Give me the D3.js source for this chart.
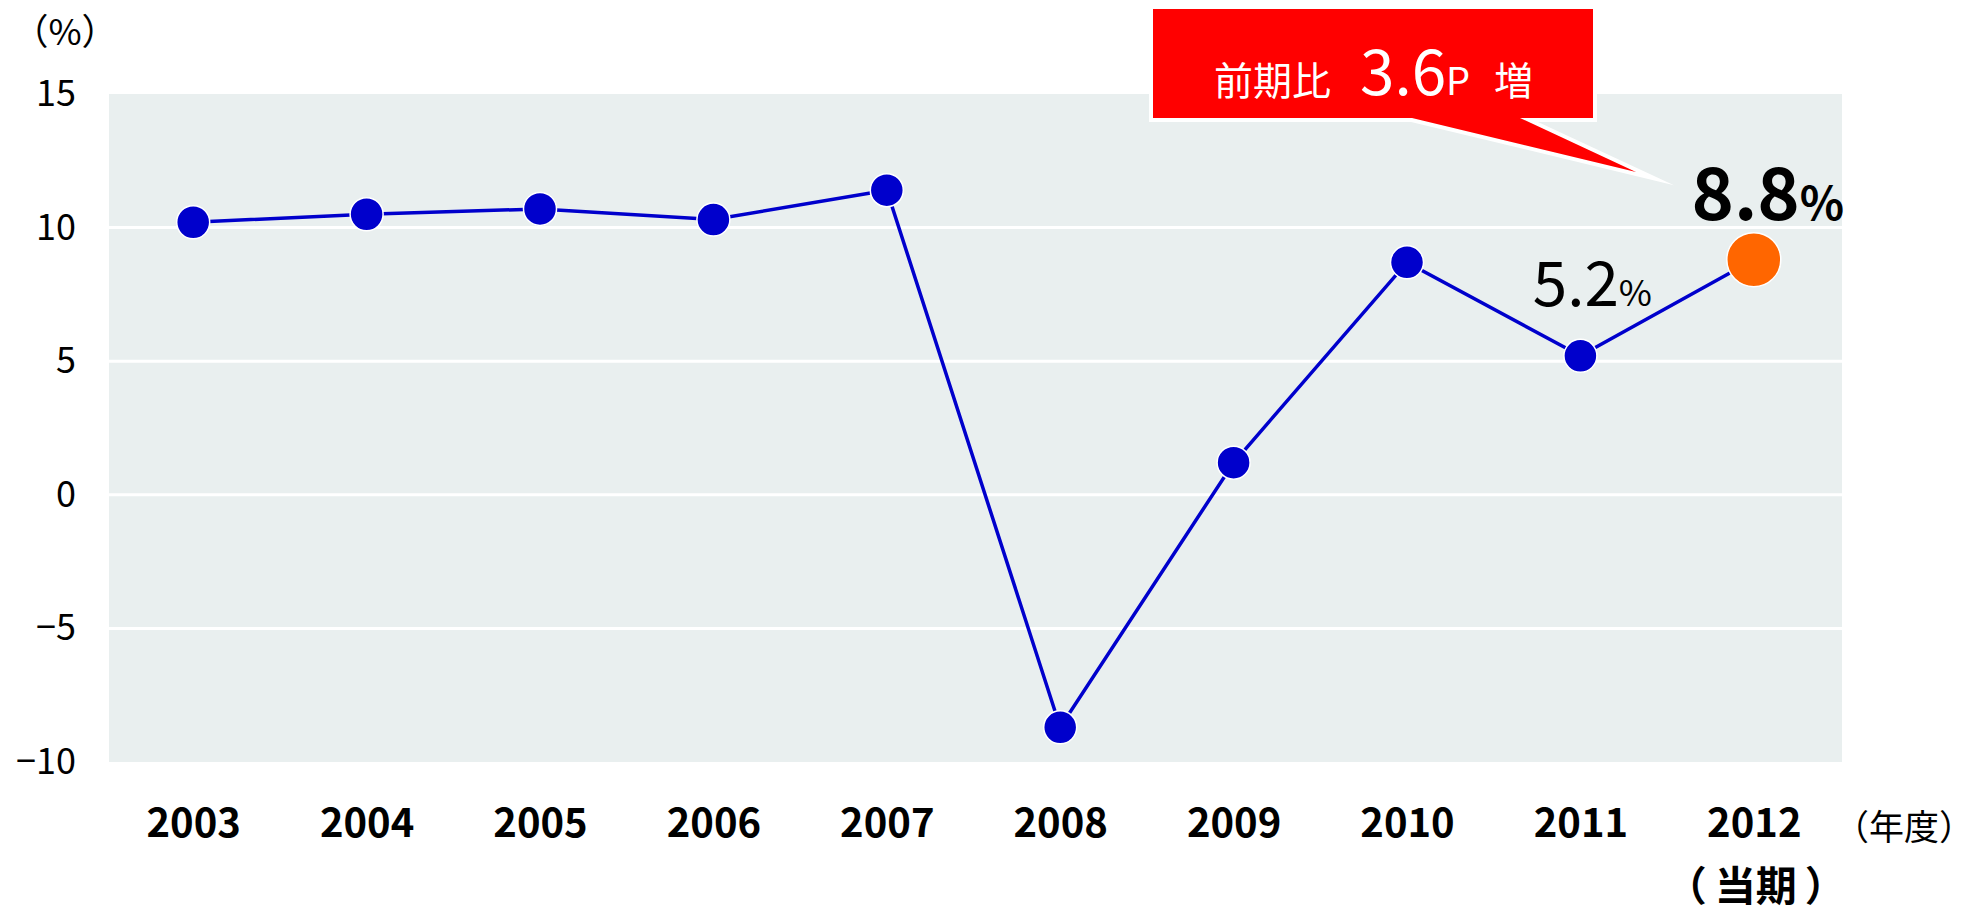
<!DOCTYPE html>
<html><head><meta charset="utf-8">
<script src="https://cdn.jsdelivr.net/npm/d3@7"></script>
<style>body{margin:0;background:#fff}svg{display:block}text{font-family:"Noto Sans CJK JP","Noto Sans",sans-serif}</style>
</head><body>
<script>
const years = ["2003","2004","2005","2006","2007","2008","2009","2010","2011","2012"];
const values = [10.2,10.5,10.7,10.3,11.4,-8.7,1.2,8.7,5.2,8.8];
const yTicks = [15,10,5,0,-5,-10];
const yTickLabels = ["15","10","5","0","−5","−10"];

const W=1977,H=912;
const svg=d3.select("body").append("svg").attr("width",W).attr("height",H);
const pL=109,pR=1842,pT=94,pB=762;
const x=d3.scalePoint().domain(years).range([106.5,1840.5]).padding(0.5);
const y=d3.scaleLinear().domain([-10,15]).range([pB,pT]);

svg.append("rect").attr("x",pL).attr("y",pT).attr("width",pR-pL).attr("height",pB-pT).attr("fill","#E9EFEF");
svg.selectAll("line.grid").data(yTicks.filter(d=>d<15&&d>-10)).enter().append("line")
 .attr("x1",pL).attr("x2",pR).attr("y1",d=>y(d)).attr("y2",d=>y(d)).attr("stroke","#fff").attr("stroke-width",3);

const ya=svg.append("g").attr("transform",`translate(${pL},0)`)
 .call(d3.axisLeft(y).tickValues(yTicks).tickSize(0).tickPadding(33).tickFormat((d,i)=>yTickLabels[i]));
ya.select(".domain").remove();
ya.selectAll("text").attr("font-size",36).attr("fill","#000").attr("font-family","'Noto Sans CJK JP'");

const xa=svg.append("g").attr("transform",`translate(0,${pB})`)
 .call(d3.axisBottom(x).tickSize(0).tickPadding(47));
xa.select(".domain").remove();
xa.selectAll("text").attr("font-size",40).attr("font-weight","bold").attr("fill","#000").attr("font-family","'Noto Sans CJK JP'");

const cur=svg.append("text").attr("x",x("2012")+2).attr("y",901).attr("text-anchor","middle").attr("font-size",41).attr("font-weight","bold");
cur.append("tspan").text("（");
cur.append("tspan").attr("dx",8).text("当期");
cur.append("tspan").attr("dx",8).text("）");
svg.append("text").attr("x",1974).attr("y",840).attr("text-anchor","end").attr("font-size",35).text("（年度）");
svg.append("text").attr("x",65).attr("y",45).attr("text-anchor","middle").attr("font-size",36).text("（%）");

const line=d3.line().x((d,i)=>x(years[i])).y(d=>y(d));
svg.append("path").datum(values).attr("d",line).attr("fill","none").attr("stroke","#0000CC").attr("stroke-width",3.5);
svg.selectAll("circle.pt").data(values).enter().append("circle")
 .attr("cx",(d,i)=>x(years[i])).attr("cy",d=>y(d))
 .attr("r",(d,i)=>i===years.length-1?27:16.5)
 .attr("fill",(d,i)=>i===years.length-1?"#FF6600":"#0000CC")
 .attr("stroke","#fff").attr("stroke-width",1.5);

// value labels
const l1=svg.append("text").attr("x",x("2011")+12).attr("y",y(values[8])-50).attr("text-anchor","middle");
l1.append("tspan").attr("font-size",62).text(values[8].toFixed(1));
l1.append("tspan").attr("font-size",36).text("%");
const l2=svg.append("text").attr("x",x("2012")+14).attr("y",220).attr("text-anchor","middle").attr("font-weight","bold");
l2.append("tspan").attr("font-size",72).text(values[9].toFixed(1));
l2.append("tspan").attr("font-size",46).text("%");

// callout
const g=svg.append("g");
const cp=`M1153,9 L1593,9 L1593,118 L1520,118 L1636,172 L1412,118 L1153,118 Z`;
g.append("path").attr("d",cp).attr("fill","#fff").attr("stroke","#fff").attr("stroke-width",8).attr("stroke-linejoin","miter").attr("stroke-miterlimit",20);
g.append("path").attr("d",cp).attr("fill","#FF0000");
const t=g.append("text").attr("y",95).attr("fill","#fff");
t.append("tspan").attr("x",1214).attr("font-size",39).text("前期比");
t.append("tspan").attr("x",1360).attr("font-size",62).text("3.6");
t.append("tspan").attr("font-size",38).text("P");
t.append("tspan").attr("x",1494).attr("font-size",39).text("増");
</script>
</body></html>
